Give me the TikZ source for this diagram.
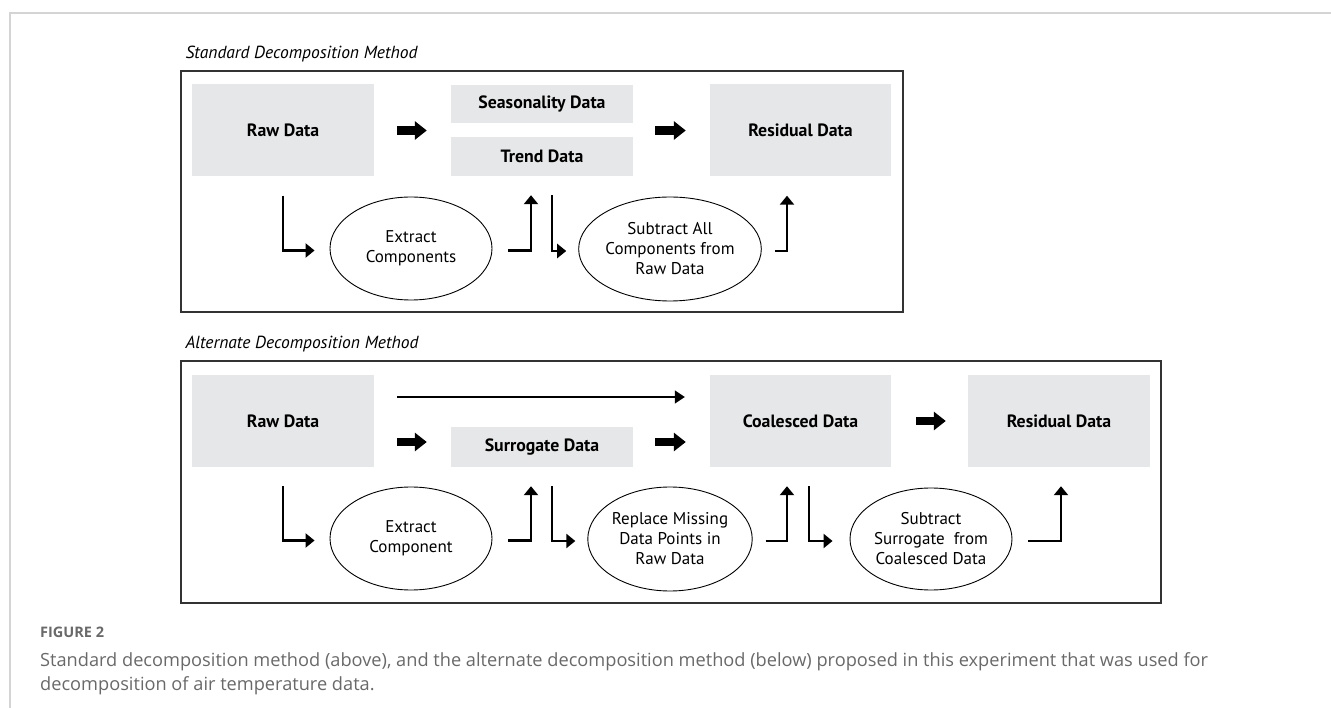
\documentclass[tikz,border=0pt]{standalone}
\usepackage{fontspec}
\setmainfont{PT Sans}
\newfontfamily\capfont{Open Sans}
\usetikzlibrary{arrows.meta,positioning,shapes.geometric}
\definecolor{boxgray}{RGB}{230,231,232}
\definecolor{framegray}{RGB}{51,51,51}
\definecolor{pagerule}{RGB}{212,212,212}
\definecolor{captext}{RGB}{105,105,105}

\begin{document}
\begin{tikzpicture}[
  x=1pt,y=-1pt,
  font=\fontsize{17}{20}\selectfont,
  frame/.style={draw=framegray,line width=1.4pt,inner sep=0pt},
  datbox/.style={fill=boxgray,inner sep=0pt,minimum width=182pt,font=\fontsize{17.8}{20}\selectfont\bfseries},
  bigbox/.style={datbox,minimum height=92pt},
  smallbox/.style={datbox,minimum height=39pt},
  oval/.style={ellipse,draw,line width=0.9pt,inner sep=0pt,minimum width=162pt,minimum height=103pt,align=center},
  ttl/.style={anchor=base west,font=\fontsize{17.5}{20}\selectfont\itshape},
  fat/.style={line width=8.5pt,-{Triangle[length=12pt,width=18pt]}},
  elbow/.style={line width=2.2pt,-{Triangle[length=9pt,width=14pt]}},
  thin/.style={line width=1.6pt,-{Triangle[length=10pt,width=13pt]}},
  captxt/.style={anchor=base west,text=captext,inner sep=0pt,font=\capfont\fontsize{18.2}{24}\selectfont}
]
\useasboundingbox (0,0) rectangle (1331,708);
% page rules
\draw[pagerule,line width=1.5pt] (1331,13) -- (10,13) -- (10,708);

% standard method
\node[ttl] (t1) at (182,59) {Standard Decomposition Method};
\node[frame,minimum width=722pt,minimum height=241pt] (fr1) at (542,191.5) {};
\node[bigbox] (raw1) at (283,130.5) {Raw Data};
\node[smallbox,minimum height=38pt] (seas) at (542,104) {Seasonality Data};
\node[smallbox] (trend) at (542,156.5) {Trend Data};
\node[bigbox,minimum width=181pt] (res1) at (800.5,130.5) {Residual Data};
\node[oval] (ext1) at (411,248.5) {Extract\\Components};
\node[oval,minimum width=164pt,minimum height=104pt] (sub1) at (670,249) {Subtract All\\Components from\\Raw Data};

\draw[fat,shorten <=23pt,shorten >=24pt] (raw1.east) -- (raw1.east -| seas.west);
\draw[fat,shorten <=22pt,shorten >=24pt] (raw1.east -| seas.east) -- (res1.west);
\draw[elbow] ([yshift=-19pt]raw1.south) |- ([xshift=-15pt,yshift=-2pt]ext1.west);
\draw[elbow] ([xshift=16pt,yshift=-2pt]ext1.east) -| ([xshift=-11pt,yshift=-19pt]trend.south);
\draw[elbow] ([xshift=10pt,yshift=-19pt]trend.south) |- ([xshift=-12pt,yshift=-2pt]sub1.west);
\draw[elbow] ([xshift=13pt,yshift=-2pt]sub1.east) -| ([xshift=-13.5pt,yshift=-19pt]res1.south);

% alternate method
\node[ttl] (t2) at (182,349) {Alternate Decomposition Method};
\node[frame,minimum width=980pt,minimum height=242pt] (fr2) at (671,482) {};
\node[bigbox] (raw2) at (283,421) {Raw Data};
\node[smallbox,minimum height=40pt] (sur) at (542,447) {Surrogate Data};
\node[bigbox,minimum width=181pt] (coal) at (800.5,421) {Coalesced Data};
\node[bigbox] (res2) at (1059,421) {Residual Data};
\node[oval] (ext2) at (411,538.5) {Extract\\Component};
\node[oval,minimum width=164pt,minimum height=104pt] (rep) at (670,539) {Replace Missing\\Data Points in\\Raw Data};
\node[oval,minimum height=102pt] (subs) at (931,539) {Subtract\\Surrogate\ \ from\\Coalesced Data};

\draw[thin,shorten <=23pt,shorten >=25pt] ([yshift=24pt]raw2.east) -- ([yshift=24pt]coal.west);
\draw[fat,shorten <=23pt,shorten >=24pt] ([yshift=5pt]sur.west -| raw2.east) -- ([yshift=5pt]sur.west);
\draw[fat,shorten <=22pt,shorten >=24pt] ([yshift=5pt]sur.east) -- ([yshift=5pt]sur.east -| coal.west);
\draw[fat,shorten <=25pt,shorten >=22pt] (coal.east) -- (res2.west);
\draw[elbow] ([yshift=-19pt]raw2.south) |- ([xshift=-15pt,yshift=-2pt]ext2.west);
\draw[elbow] ([xshift=16pt,yshift=-2pt]ext2.east) -| ([xshift=-11pt,yshift=-19pt]sur.south);
\draw[elbow] ([xshift=10pt,yshift=-19pt]sur.south) |- ([xshift=-12pt,yshift=-2pt]rep.west);
\draw[elbow] ([xshift=13pt,yshift=-2pt]rep.east) -| ([xshift=-13.5pt,yshift=-19pt]coal.south);
\draw[elbow] ([xshift=8.5pt,yshift=-19pt]coal.south) |- ([xshift=-17pt,yshift=-2pt]subs.west);
\draw[elbow] ([xshift=16pt,yshift=-2pt]subs.east) -| ([xshift=2pt,yshift=-19pt]res2.south);

% caption
\node[captxt,font=\capfont\fontsize{14.5}{16}\selectfont\bfseries] (fig) at (40,637) {FIGURE 2};
\node[captxt] (cap1) at (40,666)
  {Standard decomposition method (above), and the alternate decomposition method (below) proposed in this experiment that was used for};
\node[captxt] (cap2) at (40,690) {decomposition of air temperature data.};
\end{tikzpicture}
\end{document}
